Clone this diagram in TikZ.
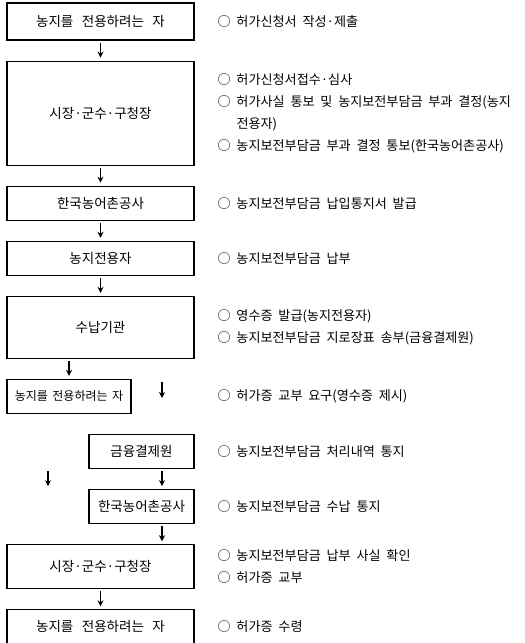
\documentclass[tikz,border=0pt]{standalone}
\usepackage{fontspec}
\usetikzlibrary{positioning,arrows.meta}
\setmainfont{Noto Sans CJK KR}
\newcommand{\kboxfont}{\fontsize{13.5}{16}\selectfont\spaceskip=8.5pt\relax}
\newcommand{\knotefont}{\fontsize{13.1}{22}\selectfont\spaceskip=5.8pt\relax}
\newcommand{\ksmallfont}{\fontsize{12}{14}\selectfont\spaceskip=4.5pt\relax}

\begin{document}
\begin{tikzpicture}[x=1pt, y=-1pt,
    ->, >={Stealth[length=6pt,width=6pt]},
    shorten >=3pt, shorten <=2pt,
    line width=1.2pt,
    node distance=20pt,
    box/.style={draw, line width=1.1pt, inner sep=0pt,
        minimum width=187pt, minimum height=34pt, font=\kboxfont},
    note/.style={anchor=west, align=left, inner sep=0pt, font=\knotefont}]
    \useasboundingbox (0,0) rectangle (525,643);
    \coordinate (col) at (217,0);
    \coordinate (lane) at (162,0);
    \coordinate (side) at (48,0);

    % flow boxes
    \node[box, minimum height=37pt] (b1) at (100.5,21.5) {농지를 전용하려는 자};
    \node[box, minimum height=104pt] (b2) [below=of b1] {시장·군수·구청장};
    \node[box] (b3) [below=of b2] {한국농어촌공사};
    \node[box] (b4) [below=of b3] {농지전용자};
    \node[box, minimum height=62pt] (b5) [below=of b4] {수납기관};
    \node[box, minimum width=124pt, font=\ksmallfont] (b6)
        [below right=20pt and 0pt of b5.south west] {농지를 전용하려는 자};
    \node[box, minimum width=105pt, anchor=north east] (b7)
        at ([yshift=-20pt]b6.south -| b5.east) {금융결제원};
    \node[box, minimum width=105pt] (b8) [below=of b7] {한국농어촌공사};
    \node[box, minimum height=44pt, anchor=north west] (b9)
        at ([yshift=-20pt]b8.south -| b1.west) {시장·군수·구청장};
    \node[box] (b10) [below=of b9] {농지를 전용하려는 자};

    % notes
    \node[note] (n1) at (b1 -| col) {○ 허가신청서 작성·제출};
    \node[note] (n2) at (b2 -| col) {○ 허가신청서접수·심사\\
        ○ 허가사실 통보 및 농지보전부담금 부과 결정(농지\\
        \phantom{○\ }전용자)\\
        ○ 농지보전부담금 부과 결정 통보(한국농어촌공사)};
    \node[note] (n3) at (b3 -| col) {○ 농지보전부담금 납입통지서 발급};
    \node[note] (n4) at (b4 -| col) {○ 농지보전부담금 납부};
    \node[note] (n5) at (b5 -| col) {○ 영수증 발급(농지전용자)\\
        ○ 농지보전부담금 지로장표 송부(금융결제원)};
    \node[note] (n6) at (b6 -| col) {○ 허가증 교부 요구(영수증 제시)};
    \node[note] (n7) at (b7 -| col) {○ 농지보전부담금 처리내역 통지};
    \node[note] (n8) at (b8 -| col) {○ 농지보전부담금 수납 통지};
    \node[note] (n9) at (b9 -| col) {○ 농지보전부담금 납부 사실 확인\\
        ○ 허가증 교부};
    \node[note] (n10) at (b10 -| col) {○ 허가증 수령};

    % arrows
    \draw (b1) -- (b2);
    \draw (b2) -- (b3);
    \draw (b3) -- (b4);
    \draw (b4) -- (b5);
    \draw (b6.north |- b5.south) -- (b6.north);
    \coordinate (f1) at (162,380);
    \coordinate (f2) at (162,401);
    \draw (f1) -- (f2);
    \draw (b7.south -| lane) -- (b8.north -| lane);
    \draw (b7.south -| side) -- (b8.north -| side);
    \draw (b8.south -| lane) -- (b9.north -| lane);
    \draw (b9.south -| b10.north) -- (b10);
\end{tikzpicture}
\end{document}
